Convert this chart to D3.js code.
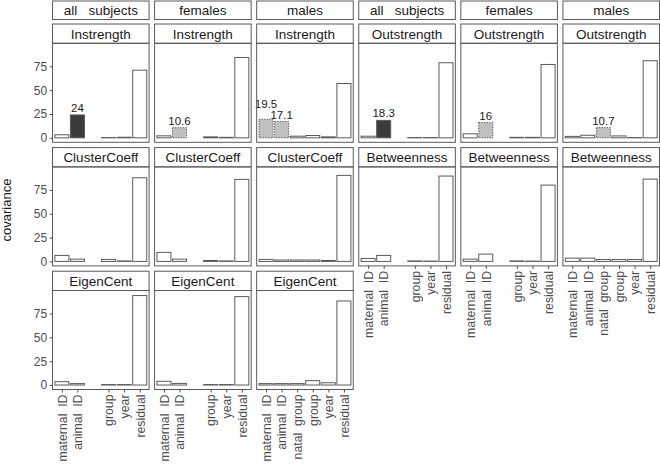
<!DOCTYPE html>
<html>
<head>
<meta charset="utf-8">
<script src="https://cdn.jsdelivr.net/npm/d3@7.9.0/dist/d3.min.js"></script>
<style>
  body { margin: 0; background: #fff; }
  svg, svg text { font-family: "Liberation Sans", Arial, sans-serif; }
  text { white-space: pre; }
</style>
</head>
<body>
<svg id="chart" width="660" height="472"></svg>
<script>
// facet headers and categories
const sexes = ["all   subjects", "females", "males"];
const leftMeasures = ["Instrength", "ClusterCoeff", "EigenCent"];
const rightMeasures = ["Outstrength", "Betweenness"];
const components = ["maternal  ID", "animal  ID", "natal  group", "group", "year", "residual"];
const yTicks = [0, 25, 50, 75];

// covariance (%) per component, rows = all subjects, females, males
// null = component not in that model
const instrength = [
  [3.2, 24, null, 0.3, 0.6, 71],
  [2.1, 10.6, null, 1.0, 0.5, 84.3],
  [19.5, 17.1, 1.7, 2.4, 1.0, 57]
];
const clusterCoeff = [
  [6.3, 2.4, null, 2.1, 0.5, 87.8],
  [9.5, 2.4, null, 1.0, 0.5, 86.1],
  [2.1, 1.5, 1.5, 1.5, 1.0, 90.3]
];
const eigenCent = [
  [3.5, 1.5, null, 0.5, 0.5, 93.9],
  [3.9, 1.7, null, 0.5, 0.5, 92.8],
  [1.5, 1.5, 1.5, 4.6, 2.4, 88.2]
];
const outstrength = [
  [1.7, 18.3, null, 0.3, 0.3, 78.8],
  [4.2, 16, null, 0.5, 0.5, 77],
  [1.5, 2.7, 10.7, 2.0, 0.3, 80.9]
];
const betweenness = [
  [3.1, 6.3, null, 0.5, 0.3, 89.6],
  [2.4, 7.7, null, 0.5, 0.3, 80.1],
  [3.5, 3.5, 2.0, 2.0, 2.0, 86.4]
];

// 0 = not significant, 1 = significant, 2 = marginal
const instrengthSig = [[0, 1, 0, 0, 0, 0], [0, 2, 0, 0, 0, 0], [2, 2, 0, 0, 0, 0]];
const outstrengthSig = [[0, 1, 0, 0, 0, 0], [0, 2, 0, 0, 0, 0], [0, 0, 2, 0, 0, 0]];

const values = {
  Instrength: instrength, ClusterCoeff: clusterCoeff, EigenCent: eigenCent,
  Outstrength: outstrength, Betweenness: betweenness
};
const sigs = { Instrength: instrengthSig, Outstrength: outstrengthSig };

const svg = d3.select("#chart");
const gridColor = "#5a5a5a";
const textColor = "#4d4d4d";

// layout
const colX = d3.scaleBand().domain(d3.range(6)).range([52.5, 659.5]).paddingInner(0.054);
const w = colX.bandwidth();
const headerTop = 1, headerH = 18.5;
const rowTop = 24, rowStep = 123.6, stripH = 19.3, panelH = 99;

const y = d3.scaleLinear().domain([-4.7, 99.2]).range([panelH, 0]);
const x = d3.scalePoint().domain(d3.range(components.length)).range([0, w]).padding(0.6);
const barW = x.step() * 0.9;

function strip(g, yTop, h, label) {
  g.append("rect")
    .attr("x", 0).attr("y", yTop).attr("width", w).attr("height", h)
    .attr("fill", "#fff").attr("stroke", gridColor).attr("stroke-width", 1);
  g.append("text")
    .attr("x", w / 2).attr("y", yTop + h / 2).attr("dy", "0.36em")
    .attr("text-anchor", "middle").attr("font-size", 13.5).attr("fill", "#1a1a1a")
    .text(label);
}

d3.range(6).forEach(c => {
  const sexIdx = c % 3;
  const measures = c < 3 ? leftMeasures : rightMeasures;
  const col = svg.append("g").attr("transform", `translate(${colX(c)},0)`);

  strip(col, headerTop, headerH, sexes[sexIdx]);

  measures.forEach((m, r) => {
    const top = rowTop + r * rowStep;
    strip(col, top, stripH, m);

    const panel = col.append("g").attr("transform", `translate(0,${top + stripH})`);
    const vals = values[m][sexIdx];
    const sig = sigs[m] ? sigs[m][sexIdx] : vals.map(() => 0);
    const data = vals.map((v, i) => ({ i, v, s: sig[i] })).filter(d => d.v !== null);

    panel.selectAll("rect.bar")
      .data(data)
      .join("rect")
      .attr("class", "bar")
      .attr("x", d => x(d.i) - barW / 2)
      .attr("y", d => y(d.v))
      .attr("width", barW)
      .attr("height", d => y(0) - y(d.v))
      .attr("fill", d => d.s === 1 ? "#3b3b3b" : d.s === 2 ? "#c0c0c0" : "#fff")
      .attr("stroke", d => d.s === 2 ? "#555" : gridColor)
      .attr("stroke-width", 1)
      .attr("stroke-dasharray", d => d.s === 2 ? "1.3,1.3" : null);

    // value labels on highlighted bars, lift the taller one if neighbours collide
    const labelled = data.filter(d => d.s > 0);
    labelled.forEach(d => {
      const nb = labelled.find(o => Math.abs(o.i - d.i) === 1);
      d.lift = nb && d.v > nb.v ? 8 : 0;
    });
    panel.selectAll("text.val")
      .data(labelled)
      .join("text")
      .attr("class", "val")
      .attr("x", d => x(d.i))
      .attr("y", d => y(d.v) - 3 - d.lift)
      .attr("text-anchor", "middle")
      .attr("font-size", 11.5)
      .attr("fill", "#1a1a1a")
      .text(d => d3.format("")(d.v));

    panel.append("rect")
      .attr("width", w).attr("height", panelH)
      .attr("fill", "none").attr("stroke", gridColor).attr("stroke-width", 1);

    if (c === 0) {
      const ax = panel.append("g")
        .call(d3.axisLeft(y).tickValues(yTicks).tickSize(2.8).tickPadding(2.5))
        .attr("font-family", null).attr("font-size", null);
      ax.select(".domain").remove();
      ax.selectAll("line").attr("stroke", textColor);
      ax.selectAll("text").attr("font-size", 12).attr("fill", textColor);
    }

    if (r === measures.length - 1) {
      const shown = data.map(d => d.i);
      const ax = panel.append("g")
        .attr("transform", `translate(0,${panelH})`)
        .call(d3.axisBottom(x).tickValues(shown).tickSize(3).tickFormat(i => components[i]))
        .attr("font-family", null).attr("font-size", null);
      ax.select(".domain").remove();
      ax.selectAll("line").attr("stroke", textColor);
      ax.selectAll("text")
        .attr("transform", "rotate(-90)")
        .attr("x", -5).attr("y", 0).attr("dy", "0.35em")
        .attr("text-anchor", "end")
        .attr("font-size", 12.3).attr("fill", textColor);
    }
  });
});

svg.append("text")
  .attr("transform", "translate(11,210) rotate(-90)")
  .attr("text-anchor", "middle")
  .attr("font-size", 13)
  .attr("fill", "#1a1a1a")
  .text("covariance");
</script>
</body>
</html>
